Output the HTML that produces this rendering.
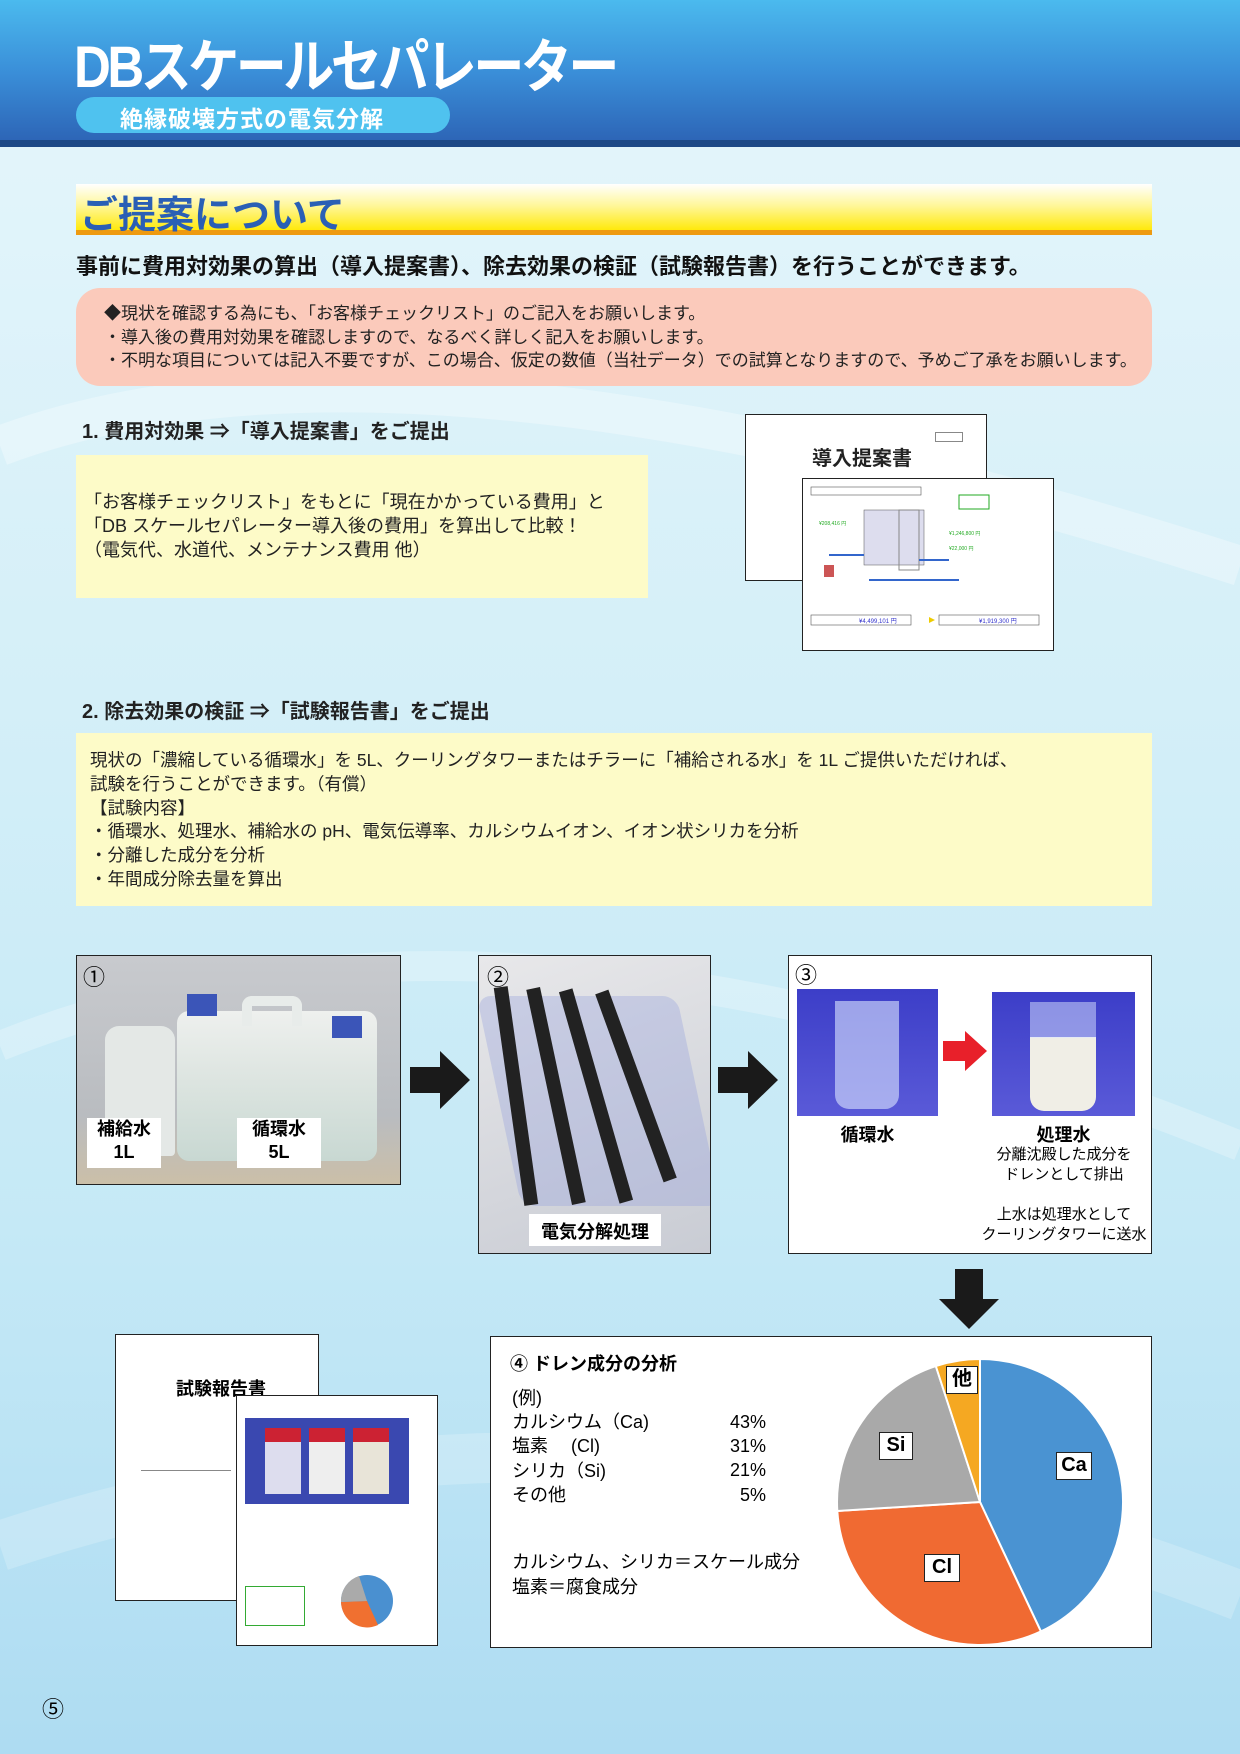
<!DOCTYPE html>
<html><head><meta charset="utf-8"><style>
*{margin:0;padding:0;box-sizing:border-box}
body{width:1240px;height:1754px;position:relative;overflow:hidden;font-family:"Liberation Sans","Noto Sans CJK JP",sans-serif;background:linear-gradient(180deg,#e6f6fb 0%,#d4eff8 40%,#c5e9f6 70%,#aedcf2 100%)}
.a{position:absolute}
.t{position:absolute;white-space:nowrap}
</style></head><body>
<svg class="a" style="left:0;top:146px" width="1240" height="1608">
<path d="M0 300 Q400 150 1240 420" stroke="#ffffff" stroke-opacity="0.3" stroke-width="40" fill="none"/>
<path d="M0 900 Q500 700 1240 1000" stroke="#ffffff" stroke-opacity="0.25" stroke-width="30" fill="none"/>
<path d="M0 1400 Q600 1200 1240 1450" stroke="#ffffff" stroke-opacity="0.2" stroke-width="50" fill="none"/>
</svg>
<div class="a" style="left:0;top:0;width:1240px;height:146px;background:linear-gradient(180deg,#4bbaee 0%,#3a8ed8 50%,#2c62b4 100%)"></div>
<div class="a" style="left:0;top:140px;width:1240px;height:7px;background:#1d4886"></div>
<div class="t" style="left:74px;top:20px;font-size:58px;color:#fff;font-weight:bold;letter-spacing:-4px;transform:scaleX(0.88);transform-origin:left">DBスケールセパレーター</div>
<div class="a" style="left:76px;top:97px;width:374px;height:36px;border-radius:18px;background:#4fc2ef"></div>
<div class="t" style="left:120px;top:100px;font-size:23px;color:#fff;font-weight:bold;letter-spacing:1px">絶縁破壊方式の電気分解</div>

<div class="a" style="left:76px;top:184px;width:1076px;height:48px;background:linear-gradient(180deg,#ffffff 0%,#fff79a 45%,#ffe800 100%)"></div>
<div class="a" style="left:76px;top:230px;width:1076px;height:5px;background:#ee9a10"></div>
<div class="t" style="left:80px;top:184px;font-size:38px;color:#2a5fb5;font-weight:bold">ご提案について</div>
<div class="t" style="left:76px;top:249px;font-size:22px;color:#111;font-weight:bold">事前に費用対効果の算出（導入提案書）、除去効果の検証（試験報告書）を行うことができます。</div>

<div class="a" style="left:76px;top:288px;width:1076px;height:98px;border-radius:24px;background:#fbcabb"></div>
<div class="t" style="left:104px;top:302px;font-size:17px;color:#222;line-height:23.5px">◆現状を確認する為にも、「お客様チェックリスト」のご記入をお願いします。<br>・導入後の費用対効果を確認しますので、なるべく詳しく記入をお願いします。<br>・不明な項目については記入不要ですが、この場合、仮定の数値（当社データ）での試算となりますので、予めご了承をお願いします。</div>

<div class="t" style="left:82px;top:415px;font-size:20px;color:#222;font-weight:bold">1. 費用対効果 ⇒「導入提案書」をご提出</div>
<div class="a" style="left:76px;top:455px;width:572px;height:143px;background:#fdfbc8"></div>
<div class="t" style="left:84px;top:490px;font-size:18px;color:#222;line-height:24px">「お客様チェックリスト」をもとに「現在かかっている費用」と<br>「DB スケールセパレーター導入後の費用」を算出して比較！<br>（電気代、水道代、メンテナンス費用 他）</div>

<div class="a" style="left:745px;top:414px;width:242px;height:167px;background:#fff;border:1.5px solid #222"></div>
<div class="a" style="left:935px;top:432px;width:28px;height:10px;border:1px solid #888"></div>
<div class="t" style="left:812px;top:442px;font-size:20px;font-weight:bold;color:#222">導入提案書</div>
<div class="a" style="left:802px;top:478px;width:252px;height:173px;background:#fff;border:1.5px solid #222;padding:6px">
<svg width="240" height="160"><rect x="2" y="2" width="110" height="8" fill="none" stroke="#555" stroke-width="0.6"/><rect x="150" y="10" width="30" height="14" fill="none" stroke="#2a2"/><rect x="55" y="25" width="60" height="55" fill="#dde" stroke="#555" stroke-width="0.5"/><rect x="90" y="25" width="20" height="60" fill="none" stroke="#888"/><path d="M20 70 H55 M110 75 H140 M60 95 H150" stroke="#36c" stroke-width="2" fill="none"/><rect x="15" y="80" width="10" height="12" fill="#c55"/><text x="10" y="40" font-size="5" fill="#2a2">¥208,416 円</text><text x="140" y="50" font-size="5" fill="#2a2">¥1,246,800 円</text><text x="140" y="65" font-size="5" fill="#2a2">¥22,000 円</text><rect x="2" y="130" width="100" height="10" fill="none" stroke="#555" stroke-width="0.6"/><rect x="130" y="130" width="100" height="10" fill="none" stroke="#555" stroke-width="0.6"/><text x="50" y="138" font-size="6" fill="#33c">¥4,499,101 円</text><text x="170" y="138" font-size="6" fill="#33c">¥1,919,300 円</text><path d="M108 135 h12 l0 -3 l6 3 l-6 3 l0 -3" fill="#ec0"/></svg></div>

<div class="t" style="left:82px;top:695px;font-size:20px;color:#222;font-weight:bold">2. 除去効果の検証 ⇒「試験報告書」をご提出</div>
<div class="a" style="left:76px;top:733px;width:1076px;height:173px;background:#fdfbc8"></div>
<div class="t" style="left:90px;top:749px;font-size:17.5px;color:#222;line-height:23.8px">現状の「濃縮している循環水」を 5L、クーリングタワーまたはチラーに「補給される水」を 1L ご提供いただければ、<br>試験を行うことができます。（有償）<br>【試験内容】<br>・循環水、処理水、補給水の pH、電気伝導率、カルシウムイオン、イオン状シリカを分析<br>・分離した成分を分析<br>・年間成分除去量を算出</div>

<div class="a" style="left:76px;top:955px;width:325px;height:230px;border:1.5px solid #222;background:linear-gradient(180deg,#c8cace 0%,#b9bcc0 70%,#cbbfa8 100%);overflow:hidden">
<div class="a" style="left:28px;top:70px;width:70px;height:130px;background:#e4e8e6;border-radius:14px 14px 4px 4px"></div>
<div class="a" style="left:100px;top:55px;width:200px;height:150px;background:linear-gradient(180deg,#eef0ee 0%,#dfe6e2 40%,#c8d8d2 100%);border-radius:12px"></div>
<div class="a" style="left:110px;top:38px;width:30px;height:22px;background:#3b55b8"></div>
<div class="a" style="left:255px;top:60px;width:30px;height:22px;background:#3b55b8"></div>
<div class="a" style="left:165px;top:40px;width:60px;height:30px;border:10px solid #e8ecea;border-bottom:none;border-radius:10px 10px 0 0"></div>
<div class="a" style="left:10px;top:162px;width:74px;height:50px;background:#fff"></div>
<div class="a" style="left:160px;top:162px;width:84px;height:50px;background:#fff"></div>
<div class="t" style="left:10px;top:162px;width:74px;text-align:center;font-size:18px;font-weight:bold;line-height:23px">補給水<br>1L</div>
<div class="t" style="left:160px;top:162px;width:84px;text-align:center;font-size:18px;font-weight:bold;line-height:23px">循環水<br>5L</div>
<div class="t" style="left:6px;top:4px;font-size:22px">①</div>
</div>
<svg class="a" style="left:410px;top:1051px" width="60" height="58"><path d="M0 16 H30 V0 L60 29 L30 58 V42 H0 Z" fill="#1a1a1a"/></svg>
<div class="a" style="left:478px;top:955px;width:233px;height:299px;border:1.5px solid #222;background:linear-gradient(160deg,#e8e8ea,#c9ccd4);overflow:hidden">
<div class="a" style="left:20px;top:40px;width:200px;height:210px;background:rgba(150,160,220,0.35);transform:skewX(12deg);border-radius:14px"></div>
<div class="a" style="left:30px;top:30px;width:14px;height:220px;background:#222;transform:rotate(-8deg)"></div>
<div class="a" style="left:70px;top:30px;width:14px;height:220px;background:#222;transform:rotate(-12deg)"></div>
<div class="a" style="left:110px;top:30px;width:14px;height:220px;background:#222;transform:rotate(-16deg)"></div>
<div class="a" style="left:150px;top:30px;width:14px;height:200px;background:#222;transform:rotate(-20deg)"></div>
<div class="a" style="left:50px;top:258px;width:132px;height:32px;background:#fff"></div>
<div class="t" style="left:50px;top:262px;width:132px;text-align:center;font-size:18px;font-weight:bold">電気分解処理</div>
<div class="t" style="left:8px;top:4px;font-size:22px">②</div>
</div>
<svg class="a" style="left:718px;top:1051px" width="60" height="58"><path d="M0 16 H30 V0 L60 29 L30 58 V42 H0 Z" fill="#1a1a1a"/></svg>
<div class="a" style="left:788px;top:955px;width:364px;height:299px;border:1.5px solid #222;background:#fff">
<div class="t" style="left:6px;top:2px;font-size:22px">③</div>
<div class="a" style="left:8px;top:33px;width:141px;height:127px;background:linear-gradient(180deg,#3c3ec8,#5a5ad8)"><div class="a" style="left:38px;top:12px;width:64px;height:108px;background:rgba(220,230,255,0.6);border-radius:0 0 14px 14px"></div></div>
<svg class="a" style="left:154px;top:75px" width="44" height="40"><path d="M0 10 H22 V0 L44 20 L22 40 V30 H0 Z" fill="#e8202a"/></svg>
<div class="a" style="left:203px;top:36px;width:143px;height:124px;background:linear-gradient(180deg,#3c3ec8,#5a5ad8)"><div class="a" style="left:38px;top:45px;width:66px;height:74px;background:#f0eee6;border-radius:0 0 14px 14px"></div><div class="a" style="left:38px;top:10px;width:66px;height:36px;background:rgba(220,230,255,0.5)"></div></div>
<div class="t" style="left:8px;top:165px;width:141px;text-align:center;font-size:18px;font-weight:bold">循環水</div>
<div class="t" style="left:203px;top:165px;width:143px;text-align:center;font-size:18px;font-weight:bold">処理水</div>
<div class="t" style="left:160px;top:189px;width:230px;text-align:center;font-size:15px;line-height:20px">分離沈殿した成分を<br>ドレンとして排出<br><br>上水は処理水として<br>クーリングタワーに送水</div>
</div>
<svg class="a" style="left:939px;top:1269px" width="60" height="60"><path d="M16 0 H44 V30 H60 L30 60 L0 30 H16 Z" fill="#1a1a1a"/></svg>

<div class="a" style="left:115px;top:1334px;width:204px;height:267px;background:#fff;border:1.5px solid #222">
<div class="t" style="left:60px;top:40px;font-size:18px;font-weight:bold">試験報告書</div>
<div class="a" style="left:25px;top:135px;width:90px;height:1px;background:#888"></div>
</div>
<div class="a" style="left:236px;top:1395px;width:202px;height:251px;background:#fff;border:1.5px solid #222">
<div class="a" style="left:8px;top:22px;width:164px;height:86px;background:#3a48b0"><div class="a" style="left:20px;top:10px;width:36px;height:66px;background:#dde;border-top:14px solid #c23"></div><div class="a" style="left:64px;top:10px;width:36px;height:66px;background:#eee;border-top:14px solid #c23"></div><div class="a" style="left:108px;top:10px;width:36px;height:66px;background:#e8e4d8;border-top:14px solid #c23"></div></div>
<div class="a" style="left:8px;top:190px;width:60px;height:40px;border:1px solid #3a3"></div>
<svg class="a" style="left:100px;top:175px" width="60" height="60"><circle cx="30" cy="30" r="26" fill="#4a90d0"/><path d="M30 30 L41 54 A26 26 0 0 1 4 31 Z" fill="#f07030"/><path d="M30 30 L4 31 A26 26 0 0 1 22 5 Z" fill="#aaa"/></svg>
</div>

<div class="a" style="left:490px;top:1336px;width:662px;height:312px;background:#fff;border:1.5px solid #222"></div>
<div class="t" style="left:510px;top:1350px;font-size:18px;font-weight:bold">④ ドレン成分の分析</div>
<div class="t" style="left:512px;top:1386px;font-size:18px;line-height:24.2px">(例)<br>カルシウム（Ca)<br>塩素　 (Cl)<br>シリカ（Si)<br>その他</div>
<div class="t" style="left:700px;top:1410px;width:66px;text-align:right;font-size:18px;line-height:24.2px">43%<br>31%<br>21%<br>5%</div>
<div class="t" style="left:512px;top:1550px;font-size:18px;line-height:25px">カルシウム、シリカ＝スケール成分<br>塩素＝腐食成分</div>
<svg class="a" style="left:830px;top:1352px" width="300" height="300"><g transform="translate(150,150)" stroke="#fff" stroke-width="2">
<path d="M0 0 L0 -143 A143 143 0 0 1 60.9 129.4 Z" fill="#4a93d2"/>
<path d="M0 0 L60.9 129.4 A143 143 0 0 1 -142.7 9 Z" fill="#f06a32"/>
<path d="M0 0 L-142.7 9 A143 143 0 0 1 -44.2 -136 Z" fill="#a9a9a9"/>
<path d="M0 0 L-44.2 -136 A143 143 0 0 1 0 -143 Z" fill="#f5a822"/></g></svg>
<div class="t" style="left:946px;top:1366px;width:32px;height:28px;background:#fff;border:1.5px solid #222;text-align:center;font-size:20px;font-weight:bold;line-height:25px">他</div>
<div class="t" style="left:879px;top:1432px;width:34px;height:28px;background:#fff;border:1.5px solid #222;text-align:center;font-size:20px;font-weight:bold;line-height:25px">Si</div>
<div class="t" style="left:1056px;top:1452px;width:36px;height:28px;background:#fff;border:1.5px solid #222;text-align:center;font-size:20px;font-weight:bold;line-height:25px">Ca</div>
<div class="t" style="left:924px;top:1554px;width:36px;height:28px;background:#fff;border:1.5px solid #222;text-align:center;font-size:20px;font-weight:bold;line-height:25px">Cl</div>

<div class="t" style="left:42px;top:1692px;font-size:22px">⑤</div>
</body></html>
